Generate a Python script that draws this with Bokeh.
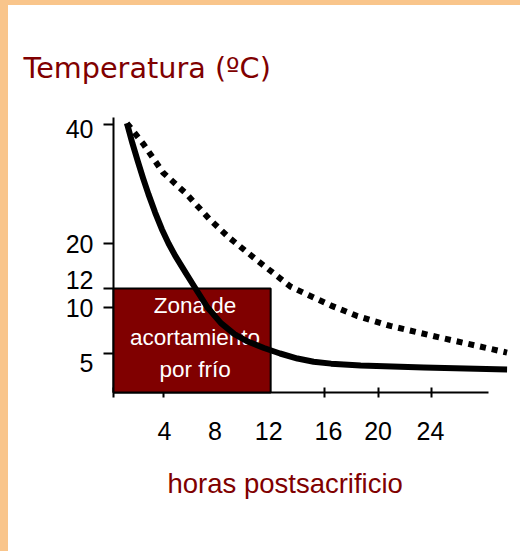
import numpy as np
from bokeh.plotting import figure
from bokeh.layouts import column, row
from bokeh.models import Range1d, FixedTicker, Title, Div
from bokeh.core.properties import value
from bokeh.embed import file_html
from bokeh.resources import INLINE

# ---------------- data ----------------
title_text = "Temperatura (ºC)"
x_title = "horas postsacrificio"

# fast chilling (solid curve): hours after slaughter, temperature ºC
hours_fast = [1.3, 1.7, 2.1, 2.5, 2.9, 3.4, 3.9, 4.4, 4.9, 5.7, 6.3, 7.3, 8.3, 9.3,
              10.3, 11.5, 12.7, 14.0, 15.2, 16.5, 18.7, 23.4, 29.6]
temp_fast = [40.2, 36.9, 33.9, 31.0, 28.3, 25.2, 22.4, 20.0, 17.8, 14.7, 12.4, 10.0, 8.3, 7.1,
             6.3, 5.6, 5.0, 4.35, 3.95, 3.7, 3.45, 3.2, 2.95]

# slow chilling (dotted curve)
hours_slow = [1.3, 2.5, 4.0, 5.7, 7.4, 8.9, 11.0, 13.5, 16.5, 18.4, 20.9, 24.7, 29.6]
temp_slow = [40.2, 36.8, 31.9, 28.4, 24.2, 21.0, 17.0, 12.3, 10.2, 9.1, 8.0, 6.7, 5.1]

# cold-shortening zone
zone_hours = [0, 12]
zone_temp = [0, 12]
zone_label = "Zona de\nacortamiento\npor frío"

x_tick_values = [4, 8, 12, 16, 20, 24]
x_tick_labels = ["4", "8", "12", "16", "20", "24"]
x_tick_marks = [4, 16, 20, 24]
y_tick_values = [5, 10, 12, 20, 40]
y_tick_labels = ["5", "10", "12", "20", "40"]

# ---------------- layout / styling ----------------
# schematic (non-linear) temperature axis: temperature -> vertical pixel position
Y_SCALE_TEMP = [0, 5, 10, 12, 20, 40, 45]
Y_SCALE_POS = [0, 39, 85, 104, 149, 268, 298]


def ypos(t):
    return np.interp(np.asarray(t, dtype=float), Y_SCALE_TEMP, Y_SCALE_POS)


X_AXIS_START, X_AXIS_END = 0.3, 28.2
Y_AXIS_TOP = 275
X_LABEL_NUDGE = [0.1, -0.15, -0.15, 0.3, 0.0, -0.1]
Y_LABEL_NUDGE = [-9.5, 0.0, 9.0, 0.0, -4.5]
DARK_RED = "#800000"
PEACH = "#F9C58B"


def key(v):
    v = round(float(v), 2)
    return int(v) if v == int(v) else v


p = figure(width=512, height=546, output_backend="svg", toolbar_location=None,
           x_range=Range1d(X_AXIS_START, 30.6), y_range=Range1d(0, 300),
           min_border_left=105, min_border_right=0, min_border_top=87,
           min_border_bottom=159)
p.outline_line_color = None
p.grid.visible = False
p.background_fill_color = "white"
p.border_fill_color = "white"

# x axis
xa = p.xaxis[0]
x_label_pos = [key(v + n) for v, n in zip(x_tick_values, X_LABEL_NUDGE)]
xa.ticker = FixedTicker(ticks=x_label_pos, minor_ticks=[X_AXIS_START] + x_tick_marks)
xa.major_label_overrides = {pos: lab for pos, lab in zip(x_label_pos, x_tick_labels)}
xa.bounds = (X_AXIS_START, X_AXIS_END)
xa.axis_line_width = 2
xa.axis_line_color = "black"
xa.major_tick_line_color = None
xa.major_tick_in = 0
xa.major_tick_out = 5
xa.minor_tick_line_color = "black"
xa.minor_tick_line_width = 2
xa.minor_tick_in = 5
xa.minor_tick_out = 5
xa.major_label_standoff = 24
xa.major_label_text_font = "Liberation Sans"
xa.major_label_text_font_size = "25px"
xa.major_label_text_color = "black"

# x title as a title below the axis
xt = Title(text=x_title, align="left", offset=54, standoff=47,
           text_font="Liberation Sans", text_font_size="27.5px",
           text_font_style="normal", text_color=DARK_RED)
p.add_layout(xt, "below")

# y axis
ya = p.yaxis[0]
y_label_pos = [key(ypos(v) + n) for v, n in zip(y_tick_values, Y_LABEL_NUDGE)]
ya.ticker = FixedTicker(ticks=y_label_pos, minor_ticks=[float(ypos(v)) for v in y_tick_values])
ya.major_label_overrides = {pos: lab for pos, lab in zip(y_label_pos, y_tick_labels)}
ya.bounds = (0, Y_AXIS_TOP)
ya.axis_line_width = 2
ya.axis_line_color = "black"
ya.major_tick_line_color = None
ya.major_tick_in = 0
ya.major_tick_out = 10
ya.minor_tick_line_color = "black"
ya.minor_tick_line_width = 2
ya.minor_tick_in = 0
ya.minor_tick_out = 10
ya.major_label_standoff = 10
ya.major_label_text_font = "Liberation Sans"
ya.major_label_text_font_size = "25px"
ya.major_label_text_color = "black"

# title
p.title.text = title_text
p.title.align = "left"
p.title.offset = -90
p.title.text_font = "DejaVu Sans"
p.title.text_font_size = "28.7px"
p.title.text_font_style = "normal"
p.title.text_color = DARK_RED
p.title.standoff = 16

# cold-shortening zone box (starts at the axis)
zone_left = max(zone_hours[0], X_AXIS_START)
zone_bottom, zone_top = float(ypos(zone_temp[0])), float(ypos(zone_temp[1]))
p.quad(left=[zone_left], right=[zone_hours[1]], bottom=[zone_bottom], top=[zone_top],
       fill_color=DARK_RED, line_color="black", line_width=2, level="overlay")
p.text(x=[(zone_left + zone_hours[1]) / 2], y=[(zone_bottom + zone_top) / 2],
       text=[zone_label], text_align="center", text_baseline="middle",
       text_color="white", text_font=value("Liberation Sans"),
       text_font_size="22.5px", text_line_height=1.27, x_offset=3, y_offset=-3,
       level="overlay")

# curves
p.line(hours_fast, ypos(temp_fast), line_color="black", line_width=6,
       line_join="round", level="overlay")
p.line(hours_slow, ypos(temp_slow), line_color="black", line_width=6,
       line_dash="6 6", line_cap="butt", line_join="round", level="overlay")

# peach frame of the slide (top and left bands)
top_band = Div(width=520, height=5, margin=0, styles={"background-color": PEACH})
left_band = Div(width=8, height=546, margin=0, styles={"background-color": PEACH})
layout = column(top_band, row(left_band, p, spacing=0), spacing=0)

open("out.html", "w").write(file_html(layout, INLINE))
